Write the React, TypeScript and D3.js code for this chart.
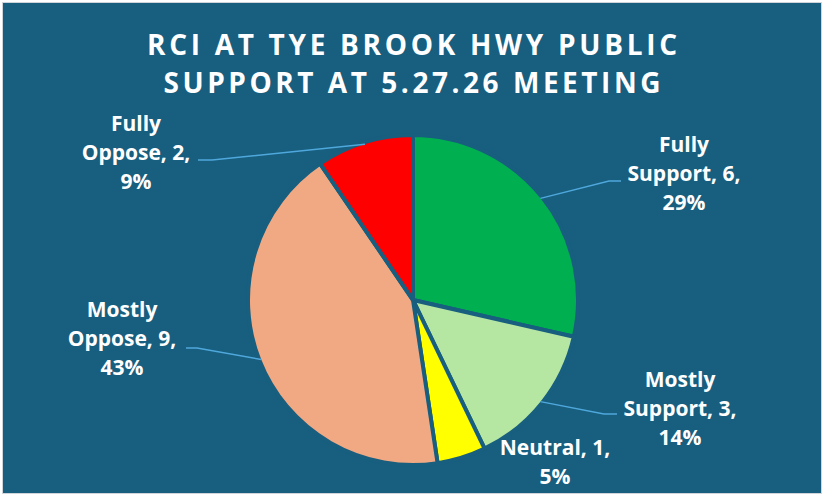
import React from "react";
import * as d3 from "d3";

const titleLines = ["RCI AT TYE BROOK HWY PUBLIC", "SUPPORT AT 5.27.26 MEETING"];
const categories = ["Fully Support", "Mostly Support", "Neutral", "Mostly Oppose", "Fully Oppose"];
const counts = [6, 3, 1, 9, 2];
const percents = ["29%", "14%", "5%", "43%", "9%"];
const colors = ["#00B050", "#B5E6A2", "#FFFF00", "#F1A983", "#FF0000"];

// layout (label anchors & leader elbows)
const labelPos = [
  { x: 684, y: 152 },
  { x: 680, y: 387 },
  { x: 555, y: 455 },
  { x: 122, y: 317 },
  { x: 136, y: 131 },
];
const leaderElbow: ([number, number][] | null)[] = [
  [[609, 181], [621, 181]],
  [[604, 414], [617, 414]],
  null,
  [[197, 348], [186, 348]],
  [[212, 160], [198, 160]],
];

const W = 823;
const H = 496;
const BG = "#175E7F";
const cx = 413;
const cy = 300;
const R = 165;

export default function App() {
  const pie = d3
    .pie<number>()
    .sort(null)
    .value((d) => d)
    .startAngle(0)
    .endAngle(2 * Math.PI);
  const arcs = pie(counts);
  const arc = d3.arc<d3.PieArcDatum<number>>().innerRadius(0).outerRadius(R);
  const edgeArc = d3.arc<d3.PieArcDatum<number>>().innerRadius(163).outerRadius(163);

  const labelLines = categories.map((c, i) => {
    const parts = c.split(" ");
    if (parts.length > 1) {
      return [parts[0], `${parts.slice(1).join(" ")}, ${counts[i]},`, percents[i]];
    }
    return [`${c}, ${counts[i]},`, percents[i]];
  });

  return (
    <svg
      width={W}
      height={H}
      style={{ position: "absolute", left: 0, top: 0 }}
      fontFamily="'Open Sans', sans-serif"
    >
      <rect x={0} y={0} width={W} height={H} fill="#ffffff" />
      <rect x={2.5} y={2.5} width={W - 4} height={H - 5} fill={BG} stroke="#D0D5DA" strokeWidth={1} />
      {titleLines.map((t, i) => (
        <text
          key={i}
          x={412}
          y={55 + i * 38}
          textAnchor="middle"
          fill="#ffffff"
          fontSize={28}
          fontWeight={700}
          textLength={i === 0 ? 530 : 497}
          lengthAdjust="spacing"
        >
          {t}
        </text>
      ))}
      <g transform={`translate(${cx},${cy})`}>
        {arcs.map((a, i) => (
          <path key={i} d={arc(a) || ""} fill={colors[i]} stroke={BG} strokeWidth={4} strokeLinejoin="round" />
        ))}
      </g>
      {arcs.map((a, i) => {
        const el = leaderElbow[i];
        if (!el) return null;
        const [px, py] = edgeArc.centroid(a);
        const pts: [number, number][] = [[cx + px, cy + py], ...el];
        const line = d3.line();
        return <path key={i} d={line(pts) || ""} fill="none" stroke="#4FA8DC" strokeWidth={1.5} />;
      })}
      {labelLines.map((lines, i) => (
        <text
          key={i}
          textAnchor="middle"
          fill="#ffffff"
          fontSize={21}
          fontWeight={700}
        >
          {lines.map((l, j) => (
            <tspan key={j} x={labelPos[i].x} y={labelPos[i].y + j * 29}>
              {l}
            </tspan>
          ))}
        </text>
      ))}
    </svg>
  );
}
